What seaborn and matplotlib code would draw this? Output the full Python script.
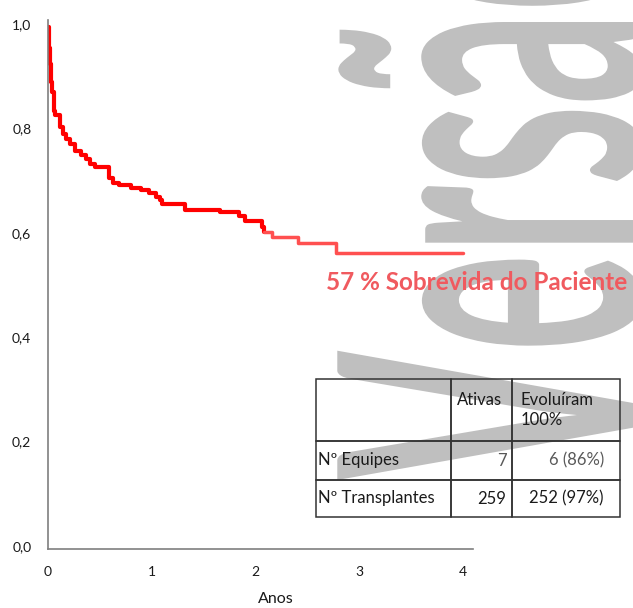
import numpy as np
import pandas as pd
import matplotlib
matplotlib.use("Agg")
import matplotlib.pyplot as plt
import seaborn as sns
from matplotlib.textpath import TextPath
from matplotlib.patches import PathPatch
from matplotlib.font_manager import FontProperties
from matplotlib.transforms import Affine2D, ScaledTranslation
from matplotlib.table import Table

# ---------------- data ----------------
anos = [0.0, 0.005, 0.015, 0.025, 0.04, 0.06, 0.07, 0.12, 0.14, 0.17, 0.21, 0.26,
        0.32, 0.37, 0.40, 0.45, 0.59, 0.63, 0.68, 0.80, 0.90, 0.97, 1.04, 1.08,
        1.10, 1.32, 1.66, 1.84, 1.90, 2.06, 2.08, 2.16, 2.41, 2.78, 4.0]
sobrevida = [1.0, 0.96, 0.93, 0.895, 0.875, 0.84, 0.832, 0.808, 0.795, 0.785, 0.775, 0.763,
             0.754, 0.748, 0.737, 0.731, 0.71, 0.702, 0.697, 0.692, 0.687, 0.682, 0.675, 0.668,
             0.66, 0.65, 0.645, 0.637, 0.628, 0.617, 0.608, 0.598, 0.587, 0.567, 0.567]
corte_anos = 2.08  # point where the curve colour becomes lighter

x_ticks = [0, 1, 2, 3, 4]
y_ticks = [0.0, 0.2, 0.4, 0.6, 0.8, 1.0]
y_tick_labels = ["0,0", "0,2", "0,4", "0,6", "0,8", "1,0"]
x_label = "Anos"
anotacao = "57 % Sobrevida do Paciente"
marca_dagua = "Versão"

tabela_cabecalho = ["", "Ativas\n", "Evoluíram\n100%"]
tabela_rotulos = ["Nº Equipes", "Nº Transplantes"]
tabela_ativas = ["7", "259"]
tabela_evoluiram = ["6 (86%)", "252 (97%)"]

# ---------------- figure ----------------
sns.set_theme(style="white")
plt.rcParams["font.family"] = ["Lato", "DejaVu Sans"]

W, H = 633, 608
fig = plt.figure(figsize=(W / 100, H / 100), dpi=100)
ax = fig.add_axes([48 / W, (H - 549) / H, 425 / W, 529 / H])
ax.set_facecolor("none")

# watermark "Versão" (stretched, rotated, gray), drawn behind the axes
fp = FontProperties(family="Lato", weight="bold")
tp = TextPath((0, 0), marca_dagua, size=1, prop=fp)
ext = tp.get_extents()
ext_vis = TextPath((0, 0), marca_dagua[:-1], size=1, prop=fp).get_extents()
sx = 458 / (ext_vis.x1 - ext.x0)
sy = 300 / 0.7165
tr = Affine2D().translate(-ext.x0, 0).scale(sx, sy).rotate_deg(90).translate(640, H - 480)
wm = PathPatch(tp, transform=tr, facecolor="#bfbfbf", edgecolor="none", zorder=-5)
fig.add_artist(wm)

df = pd.DataFrame({"anos": anos, "sobrevida": sobrevida})
parte1 = df[df["anos"] <= corte_anos]
parte2 = df[df["anos"] >= corte_anos]

sns.lineplot(data=parte1, x="anos", y="sobrevida", ax=ax, color="#ff0000",
             lw=3.0, drawstyle="steps-post", estimator=None, sort=False)
sns.lineplot(data=parte2, x="anos", y="sobrevida", ax=ax, color="#ff5050",
             lw=2.5, drawstyle="steps-post", estimator=None, sort=False)
# where the curve crosses the watermark it looks darker (multiply effect)
n_before = len(ax.lines)
sns.lineplot(data=parte2, x="anos", y="sobrevida", ax=ax, color="#b80000",
             lw=2.5, drawstyle="steps-post", estimator=None, sort=False)
for ln in ax.lines[n_before:]:
    ln.set_clip_path(wm.get_path(), wm.get_transform())

ax.set_xlim(0, 425 / 103.75)
ax.set_ylim(0, 529 / 522)
ax.set_xticks(x_ticks)
ax.set_xticklabels([str(v) for v in x_ticks])
ax.set_yticks(y_ticks)
ax.set_yticklabels(y_tick_labels)
ax.set_xlabel(x_label, fontsize=11.5, color="#1a1a1a")
ax.xaxis.set_label_coords((276 - 48) / 425, (549 - 592) / 529)
ax.set_ylabel("")

sns.despine(ax=ax)
for s in ["left", "bottom"]:
    ax.spines[s].set_color("#7f7f7f")
    ax.spines[s].set_linewidth(1.2)
ax.tick_params(axis="both", direction="out", length=8, width=1.2, color="#7f7f7f",
               labelsize=10, labelcolor="#1a1a1a", pad=4)
ax.tick_params(axis="y", length=7, pad=5)
for lab in ax.get_yticklabels():
    lab.set_transform(lab.get_transform() + ScaledTranslation(0, 3 / 100, fig.dpi_scale_trans))

ax.text((326 - 48) / 425, (549 - 282) / 529, anotacao, transform=ax.transAxes,
        ha="left", va="center", fontsize=17.5, fontweight="bold", color="#f05a5f",
        clip_on=False)

# table
col_w = [135, 61, 108]
row_h = [62, 39, 37]
tab = Table(ax, bbox=[(316 - 48) / 425, (549 - 517) / 529, 304 / 425, 138 / 529])
tab.auto_set_font_size(False)
linhas = [tabela_cabecalho,
          [tabela_rotulos[0], tabela_ativas[0], tabela_evoluiram[0]],
          [tabela_rotulos[1], tabela_ativas[1], tabela_evoluiram[1]]]
for r in range(3):
    for c in range(3):
        if r == 0:
            loc = "left"
        else:
            loc = "left" if c == 0 else "right"
        cell = tab.add_cell(r, c, width=col_w[c], height=row_h[r], text=linhas[r][c],
                            loc=loc, edgecolor="#333333", facecolor="none", fill=False)
        cell.set_linewidth(1.1)
        if c == 0:
            cell.PAD = 0.015
        elif c == 1:
            cell.PAD = 0.09
        else:
            cell.PAD = 0.08 if r == 0 else 0.15
        color = "#1a1a1a"
        if r == 1 and c > 0:
            color = "#595959"
        cell.set_text_props(fontsize=12, color=color, linespacing=1.3)
tab.set_clip_on(False)
ax.add_table(tab)

fig.savefig("out.png", dpi=100)
